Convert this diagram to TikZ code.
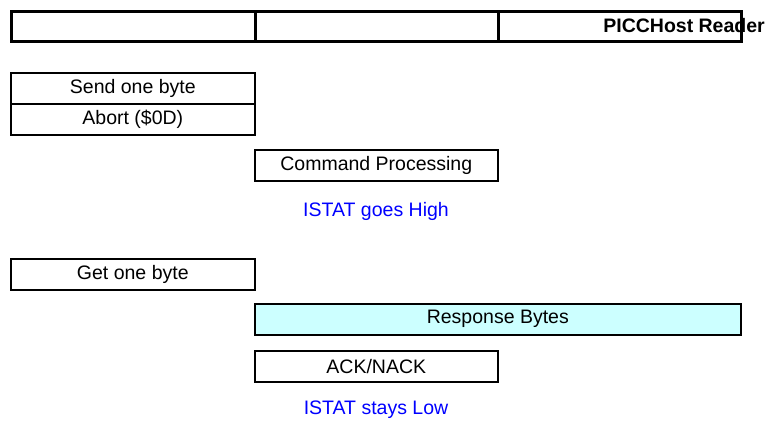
\documentclass[tikz,border=0pt]{standalone}
\usepackage{fontspec}
\setmainfont{Liberation Sans}
\begin{document}
\begin{tikzpicture}[x=1pt,y=-1pt,
  bx/.style={draw=black,line width=1.6pt,minimum height=31pt,inner sep=0pt,font=\fontsize{19.5}{21}\selectfont,anchor=north west},
  topbx/.style={draw=black,line width=2.6pt,minimum height=30pt,inner sep=0pt,anchor=north west},
  note/.style={text=blue,font=\fontsize{19.5}{21}\selectfont}]
\useasboundingbox (0,0) rectangle (765,424);
\node[topbx,minimum width=244pt] (t1) at (10,10) {};
\node[topbx,minimum width=243pt] (t2) at (254,10) {};
\node[topbx,minimum width=243pt] (t3) at (497,10) {};
\node[anchor=east,inner sep=0pt,font=\bfseries\fontsize{19.5}{21}\selectfont] (title) at (765,26) {PICCHost Reader};
\node[bx,minimum width=244pt] (send) at (10,72) {Send one byte};
\node[bx,minimum width=244pt] (abort) at (10,103) {Abort (\$0D)};
\node[bx,minimum width=243pt] (cmd) at (254,149) {Command Processing};
\node[note] (high) at (376,211) {ISTAT goes High};
\node[bx,minimum width=244pt] (get) at (10,258) {Get one byte};
\node[bx,minimum width=486pt,fill={rgb,255:red,204;green,255;blue,255}] (resp) at (254,303) {Response Bytes};
\node[bx,minimum width=243pt] (ack) at (254,350) {ACK/NACK};
\node[note] (low) at (376,410) {ISTAT stays Low};
\end{tikzpicture}
\end{document}
